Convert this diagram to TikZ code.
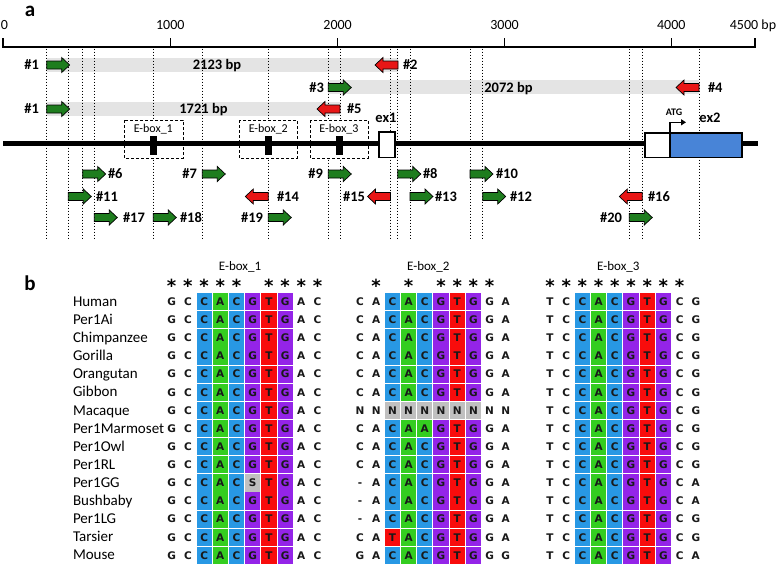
\documentclass[tikz,border=0pt]{standalone}
\usepackage{fontspec}
\setmainfont{Carlito}
\newfontfamily\seqfont{DejaVu Sans}
\usetikzlibrary{arrows.meta}
\definecolor{fwdgreen}{RGB}{30,125,30}
\definecolor{revred}{RGB}{232,22,22}
\definecolor{bandgrey}{RGB}{228,228,228}
\definecolor{exblue}{RGB}{72,132,215}
\definecolor{cellC}{RGB}{40,152,228}
\definecolor{cellA}{RGB}{52,205,32}
\definecolor{cellG}{RGB}{148,36,232}
\definecolor{cellT}{RGB}{248,12,12}
\definecolor{cellN}{RGB}{192,192,192}
\definecolor{cellS}{RGB}{192,192,192}
\tikzset{
  every node/.style={inner sep=0pt, outer sep=0pt},
  numlbl/.style={font=\fontsize{14.5}{16}\selectfont\bfseries, text height=9.3pt, text depth=0pt},
  ticklbl/.style={font=\fontsize{14}{16}\selectfont, text height=9pt, text depth=0pt},
  eboxlbl/.style={font=\fontsize{12}{14}\selectfont, text height=7.7pt, text depth=0pt},
  atglbl/.style={font=\fontsize{10}{12}\selectfont\bfseries, text height=6.4pt, text depth=0pt},
  panellbl/.style={font=\fontsize{21}{23}\selectfont\bfseries},
  spname/.style={font=\fontsize{15}{17}\selectfont, anchor=west, text height=9.2pt, text depth=0pt},
  seqltr/.style={font=\seqfont\bfseries\fontsize{10.5}{12}\selectfont, text height=7.6pt, text depth=0pt, text=black!90},
  astk/.style={font=\seqfont\bfseries\fontsize{18}{20}\selectfont, anchor=base},
  titlelbl/.style={font=\fontsize{13}{15}\selectfont, text height=8.4pt, text depth=0pt},
  band/.style={fill=bandgrey},
  guide/.style={dotted, line width=1pt},
  eboxframe/.style={dashed, line width=0.8pt, fill=white, dash pattern=on 3pt off 2pt},
  arrowedge/.style={draw=black, line width=0.7pt, line join=miter},
  fwdpic/.pic={\path[arrowedge, fill=fwdgreen] (0,-4) -- (15,-4) -- (15,-7.5) -- (23,0) -- (15,7.5) -- (15,4) -- (0,4) -- cycle;},
  revpic/.pic={\path[arrowedge, fill=revred] (0,-4) -- (-15,-4) -- (-15,-7.5) -- (-23,0) -- (-15,7.5) -- (-15,4) -- (0,4) -- cycle;}
}
\newcommand\seqblock[3]{%
  \foreach \ch [count=\i from 0] in {#3} {%
    \pgfmathsetmacro\sqx{#1+16.2*\i}%
    \ifnum\i>1 \ifnum\i<8 \fill[cell\ch] ({\sqx-7.6},{#2-8.6}) rectangle ({\sqx+7.6},{#2+8.6}); \fi\fi
    \node[seqltr] at (\sqx,#2) {\ch};
  }}
\newcommand\seqrow[5]{%
  \pgfmathsetmacro\ry{301.7+18.12*#1}%
  \node[spname] (sp#1) at (73,\ry) {#2};
  \seqblock{171.7}{\ry}{#3}
  \seqblock{360}{\ry}{#4}
  \seqblock{550}{\ry}{#5}}
\newcommand\starrow[2]{%
  \foreach \i in {#2} {\node[astk] at ({#1+16.2*\i},292.5) {*};}}
\begin{document}
\begin{tikzpicture}[x=1pt,y=-1pt]
\useasboundingbox (0,0) rectangle (778,563);
% panel labels
\node[panellbl] (pa) at (30,11) {a};
\node[panellbl] (pb) at (30,283.5) {b};
% axis
\draw[line width=1.3pt] (3,47) -- (755.5,47);
\foreach \tx in {3,170.3,337.6,504.5,671.3,755} {\draw[line width=1.3pt] (\tx,38) -- (\tx,47.6);}
\node[ticklbl] (t0) at (4.5,25) {0};
\node[ticklbl] (t1) at (170.3,25) {1000};
\node[ticklbl] (t2) at (337.6,25) {2000};
\node[ticklbl] (t3) at (504.5,25) {3000};
\node[ticklbl] (t4) at (671.3,25) {4000};
\node[ticklbl] (t5) at (753,25) {4500 bp};
% grey bands
\fill[band] (46.7,58) rectangle (398,72);
\fill[band] (328.3,80) rectangle (699,94);
\fill[band] (46.7,102) rectangle (340,116);
% guide lines
\foreach \gx in {46.7,68.3,82.7,94.3,153.3,202.3,268.3,328.3,340,390.5,397.8,410,470,482.7,629.3,642.3,699}
  {\draw[guide] (\gx,48.5) -- (\gx,238);}
% E-box frames
\draw[eboxframe] (124,120) rectangle (183,158);
\draw[eboxframe] (239,120) rectangle (297,158);
\draw[eboxframe] (310,120) rectangle (368,158);
\node[eboxlbl] (eb1) at (153.3,129) {E-box\_1};
\node[eboxlbl] (eb2) at (268.3,129) {E-box\_2};
\node[eboxlbl] (eb3) at (339,129) {E-box\_3};
% main line
\draw[line width=4.5pt] (3,143.5) -- (758,143.5);
\fill (150,136) rectangle (157,155);
\fill (265,136) rectangle (272,155);
\fill (336,136) rectangle (343,155);
% exons
\draw[line width=1.4pt, fill=white] (379,132) rectangle (395,157.5);
\node[numlbl] (ex1) at (386,118) {ex1};
\draw[line width=1.4pt, fill=white] (645,133) rectangle (670,157.5);
\draw[line width=1.4pt, fill=exblue] (670,133) rectangle (742,157.5);
\node[numlbl] (ex2) at (710,118) {ex2};
\node[atglbl] (atg) at (674,112.5) {ATG};
\coordinate (atgfoot) at (670,133);
\coordinate (atgtip) at (686,122.3);
\draw[line width=1.3pt, -{Triangle[length=5pt,width=6pt]}] (atgfoot) -- (670,122.3) -- (atgtip);
% primer rows 1-3
\pic at (46.7,65) {fwdpic};
\node[numlbl, anchor=east] (p1a) at (39,65) {\#1};
\pic at (398,65) {revpic};
\node[numlbl, anchor=west] (p2) at (403,65) {\#2};
\node[numlbl] (l2123) at (217,65) {2123 bp};
\pic at (328.3,87.5) {fwdpic};
\node[numlbl, anchor=east] (p3) at (324,87.5) {\#3};
\pic at (699,87.5) {revpic};
\node[numlbl, anchor=west] (p4) at (708,87.5) {\#4};
\node[numlbl] (l2072) at (508.5,87.5) {2072 bp};
\pic at (46.7,109) {fwdpic};
\node[numlbl, anchor=east] (p1b) at (39,109) {\#1};
\pic at (340,109) {revpic};
\node[numlbl, anchor=west] (p5) at (347,109) {\#5};
\node[numlbl] (l1721) at (203.5,109) {1721 bp};
% primer row 4
\pic at (82.7,174) {fwdpic};
\node[numlbl, anchor=west] (p6) at (108,174) {\#6};
\pic at (202.3,174) {fwdpic};
\node[numlbl, anchor=east] (p7) at (197,174) {\#7};
\pic at (328.3,174) {fwdpic};
\node[numlbl, anchor=east] (p9) at (323,174) {\#9};
\pic at (397.8,174) {fwdpic};
\node[numlbl, anchor=west] (p8) at (423,174) {\#8};
\pic at (470,174) {fwdpic};
\node[numlbl, anchor=west] (p10) at (496,174) {\#10};
% primer row 5
\pic at (68.3,196.5) {fwdpic};
\node[numlbl, anchor=west] (p11) at (96,196.5) {\#11};
\pic at (268.3,196.5) {revpic};
\node[numlbl, anchor=west] (p14) at (277,196.5) {\#14};
\pic at (390.5,196.5) {revpic};
\node[numlbl, anchor=east] (p15) at (365,196.5) {\#15};
\pic at (410,196.5) {fwdpic};
\node[numlbl, anchor=west] (p13) at (435,196.5) {\#13};
\pic at (482.7,196.5) {fwdpic};
\node[numlbl, anchor=west] (p12) at (510,196.5) {\#12};
\pic at (642.3,196.5) {revpic};
\node[numlbl, anchor=west] (p16) at (648,196.5) {\#16};
% primer row 6
\pic at (94.3,217.5) {fwdpic};
\node[numlbl, anchor=west] (p17) at (123,217.5) {\#17};
\pic at (153.3,217.5) {fwdpic};
\node[numlbl, anchor=west] (p18) at (180,217.5) {\#18};
\pic at (268.3,217.5) {fwdpic};
\node[numlbl, anchor=east] (p19) at (263,217.5) {\#19};
\pic at (629.3,217.5) {fwdpic};
\node[numlbl, anchor=east] (p20) at (622,217.5) {\#20};
% panel b titles and stars
\node[titlelbl] (tb1) at (240,266) {E-box\_1};
\node[titlelbl] (tb2) at (428.3,266) {E-box\_2};
\node[titlelbl] (tb3) at (618.3,266) {E-box\_3};
\starrow{171.7}{0,1,2,3,4,6,7,8,9}
\starrow{360}{1,3,5,6,7,8}
\starrow{550}{0,1,2,3,4,5,6,7,8}
% alignment
\seqrow{0}{Human}{G,C,C,A,C,G,T,G,A,C}{C,A,C,A,C,G,T,G,G,A}{T,C,C,A,C,G,T,G,C,G}
\seqrow{1}{Per1Ai}{G,C,C,A,C,G,T,G,A,C}{C,A,C,A,C,G,T,G,G,A}{T,C,C,A,C,G,T,G,C,G}
\seqrow{2}{Chimpanzee}{G,C,C,A,C,G,T,G,A,C}{C,A,C,A,C,G,T,G,G,A}{T,C,C,A,C,G,T,G,C,G}
\seqrow{3}{Gorilla}{G,C,C,A,C,G,T,G,A,C}{C,A,C,A,C,G,T,G,G,A}{T,C,C,A,C,G,T,G,C,G}
\seqrow{4}{Orangutan}{G,C,C,A,C,G,T,G,A,C}{C,A,C,A,C,G,T,G,G,A}{T,C,C,A,C,G,T,G,C,G}
\seqrow{5}{Gibbon}{G,C,C,A,C,G,T,G,A,C}{C,A,C,A,C,G,T,G,G,A}{T,C,C,A,C,G,T,G,C,G}
\seqrow{6}{Macaque}{G,C,C,A,C,G,T,G,A,C}{N,N,N,N,N,N,N,N,N,N}{T,C,C,A,C,G,T,G,C,G}
\seqrow{7}{Per1Marmoset}{G,C,C,A,C,G,T,G,A,C}{C,A,C,A,A,G,T,G,G,A}{T,C,C,A,C,G,T,G,C,G}
\seqrow{8}{Per1Owl}{G,C,C,A,C,G,T,G,A,C}{C,A,C,A,C,G,T,G,G,A}{T,C,C,A,C,G,T,G,C,G}
\seqrow{9}{Per1RL}{G,C,C,A,C,G,T,G,A,C}{C,A,C,A,C,G,T,G,G,A}{T,C,C,A,C,G,T,G,C,G}
\seqrow{10}{Per1GG}{G,C,C,A,C,S,T,G,A,C}{-,A,C,A,C,G,T,G,G,A}{T,C,C,A,C,G,T,G,C,A}
\seqrow{11}{Bushbaby}{G,C,C,A,C,G,T,G,A,C}{-,A,C,A,C,G,T,G,G,A}{T,C,C,A,C,G,T,G,C,A}
\seqrow{12}{Per1LG}{G,C,C,A,C,G,T,G,A,C}{-,A,C,A,C,G,T,G,G,A}{T,C,C,A,C,G,T,G,C,G}
\seqrow{13}{Tarsier}{G,C,C,A,C,G,T,G,A,C}{C,A,T,A,C,G,T,G,G,A}{T,C,C,A,C,G,T,G,C,G}
\seqrow{14}{Mouse}{G,C,C,A,C,G,T,G,A,C}{G,A,C,A,C,G,T,G,G,G}{T,C,C,A,C,G,T,G,C,A}
\end{tikzpicture}
\end{document}
